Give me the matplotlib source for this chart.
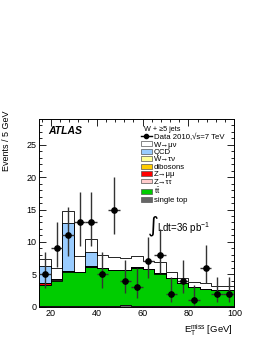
import numpy as np
import matplotlib
matplotlib.use("Agg")
from matplotlib import pyplot as plt
from matplotlib.patches import Patch
from matplotlib.lines import Line2D

plt.rcParams['font.family'] = ['Liberation Sans', 'DejaVu Sans']
plt.rcParams['mathtext.fontset'] = 'custom'
plt.rcParams['mathtext.rm'] = 'Liberation Sans'
plt.rcParams['mathtext.it'] = 'Liberation Sans:italic'
plt.rcParams['mathtext.bf'] = 'Liberation Sans:bold'

# binning: 5 GeV bins from 15 to 100 GeV
bin_edges = [15, 20, 25, 30, 35, 40, 45, 50, 55, 60, 65, 70, 75, 80, 85, 90, 95, 100]

# stacked backgrounds (events per bin), bottom to top
single_top = [0.1, 0.1, 0.15, 0.15, 0.15, 0.15, 0.15, 0.2, 0.15, 0.15, 0.1, 0.1, 0.1, 0.1, 0.1, 0.1, 0.1]
ttbar = [3.2, 3.9, 5.25, 5.15, 5.95, 5.75, 5.45, 5.4, 5.85, 5.65, 5.0, 4.3, 3.6, 2.9, 2.6, 2.4, 2.4]
z_tautau = [0.03, 0.03, 0.03, 0.02, 0.03, 0.02, 0.02, 0.02, 0.01, 0.01, 0.01, 0.01, 0.0, 0.0, 0.0, 0.0, 0.0]
z_mumu = [0.3, 0.2, 0.1, 0.05, 0.1, 0.05, 0.05, 0.05, 0.03, 0.03, 0.03, 0.02, 0.0, 0.0, 0.0, 0.0, 0.0]
dibosons = [0.02, 0.01, 0.02, 0.01, 0.02, 0.01, 0.01, 0.01, 0.01, 0.01, 0.01, 0.01, 0.0, 0.0, 0.0, 0.0, 0.0]
w_taunu = [0.05, 0.01, 0.0, 0.0, 0.0, 0.0, 0.0, 0.0, 0.0, 0.0, 0.0, 0.0, 0.0, 0.0, 0.0, 0.0, 0.0]
qcd = [2.5, 0.0, 7.35, 0.0, 2.25, 0.0, 0.0, 0.0, 0.0, 0.0, 0.0, 0.0, 0.0, 0.0, 0.0, 0.0, 0.0]
w_munu = [1.1, 1.65, 1.9, 2.45, 2.0, 1.95, 2.05, 1.85, 1.77, 1.17, 1.67, 0.97, 0.7, 0.85, 0.9, 0.6, 0.6]

# data with asymmetric poisson errors
data_x = [17.5, 22.5, 27.5, 32.5, 37.5, 42.5, 47.5, 52.5, 57.5, 62.5, 67.5, 72.5, 77.5, 82.5, 87.5, 92.5, 97.5]
data_y = [5, 9, 11, 13, 13, 5, 15, 4, 3, 7, 8, 2, 4, 1, 6, 2, 2]
err_lo = [2.16, 2.94, 3.26, 3.58, 3.58, 2.16, 3.83, 1.91, 1.63, 2.58, 2.77, 1.29, 1.91, 0.83, 2.38, 1.29, 1.29]
err_hi = [3.38, 4.11, 4.41, 4.70, 4.70, 3.38, 4.96, 3.16, 2.92, 3.77, 3.94, 2.64, 3.16, 2.30, 3.58, 2.64, 2.64]

components = [
    (single_top, '#666666', 'single top'),
    (ttbar, '#00cc00', r't$\bar{\mathrm{t}}$'),
    (z_tautau, '#ffcccc', 'Z→ττ'),
    (z_mumu, '#ff0000', 'Z→μμ'),
    (dibosons, '#ffcc00', 'dibosons'),
    (w_taunu, '#ffff99', 'W→τν'),
    (qcd, '#99ccff', 'QCD'),
    (w_munu, '#ffffff', 'W→μν'),
]

fig = plt.figure(figsize=(2.66, 3.44), dpi=100)
ax = fig.add_axes([0.148, 0.109, 0.733, 0.545])

# draw the stack as cumulative histograms, top one first
cum = np.zeros(len(bin_edges) - 1)
cumulative = []
for vals, col, lab in components:
    cum = cum + np.array(vals)
    cumulative.append((cum.copy(), col))
for tot, col in reversed(cumulative):
    ax.stairs(tot, bin_edges, baseline=0, fill=True, color=col, zorder=2)
    ax.stairs(tot, bin_edges, baseline=None, color='black', linewidth=0.6, zorder=3)

ax.errorbar(data_x, data_y, yerr=[err_lo, err_hi], xerr=2.5, fmt='o',
            color='black', ecolor='#333333', elinewidth=1.0, markersize=3.8,
            capsize=0, zorder=5)

ax.set_xlim(15, 100)
ax.set_ylim(0, 29)
ax.set_xticks([20, 40, 60, 80, 100])
ax.set_xticks(np.arange(16, 100, 4), minor=True)
ax.set_yticks([0, 5, 10, 15, 20, 25])
ax.set_yticks(np.arange(0, 29, 1), minor=True)
ax.tick_params(which='both', direction='in', top=True, right=True, labelsize=6.5,
               width=0.6, pad=2)
ax.tick_params(which='major', length=5)
ax.tick_params(which='minor', length=2.5)
for sp in ax.spines.values():
    sp.set_linewidth(0.7)

fig.text(0.026, 0.68, 'Events / 5 GeV', rotation=90, ha='center', va='top', fontsize=6.5)
fig.text(0.876, 0.018, r'$\mathrm{E}_{\mathrm{T}}^{\mathrm{miss}}$ [GeV]', ha='right',
         va='bottom', fontsize=6.8)

ax.text(0.045, 0.935, 'ATLAS', transform=ax.transAxes, fontsize=7.5,
        fontweight='bold', fontstyle='italic', va='center', ha='left')
ax.text(0.535, 0.942, 'W + ≥5 jets', transform=ax.transAxes, fontsize=5.2,
        va='center', ha='left')

handles = [Line2D([], [], color='black', marker='o', markersize=3, linewidth=1.0)]
labels = ['Data 2010,√s=7 TeV']
for vals, col, lab in reversed(components):
    handles.append(Patch(facecolor=col, edgecolor='#555555', linewidth=0.5))
    labels.append(lab)
ax.legend(handles, labels, loc='upper left', bbox_to_anchor=(0.52, 0.922),
          frameon=False, fontsize=5.6, handlelength=1.45, handleheight=0.6,
          handletextpad=0.2, labelspacing=0.03, borderpad=0, borderaxespad=0)

ax.text(0.555, 0.43, '∫', transform=ax.transAxes, fontsize=15,
        va='center', ha='left', family='DejaVu Sans')
ax.text(0.605, 0.42, r'Ldt=36 pb$^{-1}$', transform=ax.transAxes, fontsize=7,
        va='center', ha='left')

fig.savefig('out.png', dpi=100)
plt.close(fig)
